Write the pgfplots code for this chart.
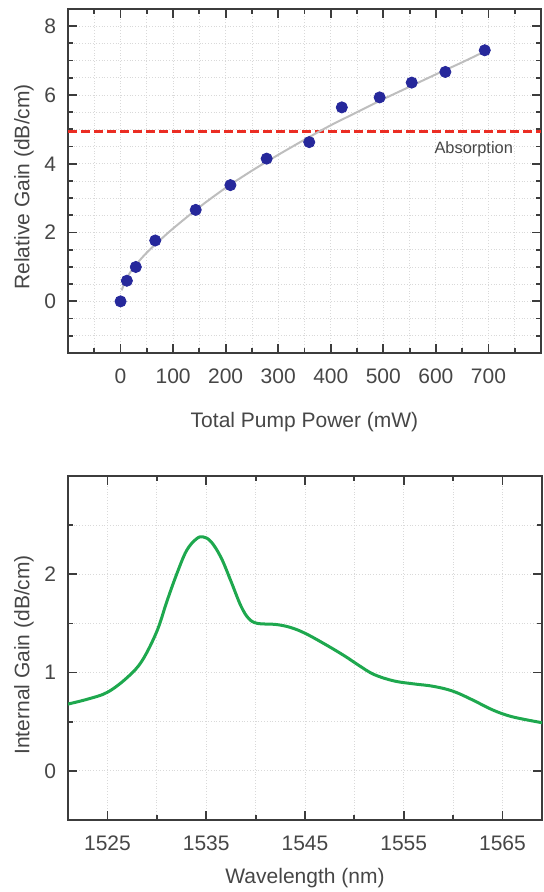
\documentclass[border=0pt]{standalone}
\usepackage{fontspec}
\setmainfont{Liberation Sans}
\usepackage{pgfplots}
\pgfplotsset{compat=1.18}

\definecolor{axisgray}{RGB}{60,60,60}
\definecolor{labelgray}{RGB}{70,70,70}
\definecolor{dotblue}{RGB}{38,40,155}
\definecolor{fitgray}{RGB}{190,190,190}
\definecolor{absred}{RGB}{235,45,35}
\definecolor{gaingreen}{RGB}{30,168,78}

\pgfplotsset{
  panel/.style={
    scale only axis,
    axis line style={draw=axisgray, line width=1pt},
    tick style={draw=axisgray, line width=0.9pt},
    major tick length=4.5pt, minor tick length=2.5pt,
    tick align=inside,
    grid=both,
    major grid style={densely dotted, gray!30, line width=0.4pt},
    minor grid style={densely dotted, gray!30, line width=0.4pt},
    tick label style={font=\fontsize{10.5}{12}\selectfont, text=labelgray},
    label style={font=\fontsize{10.5}{12}\selectfont, text=labelgray},
    xticklabel style={anchor=center, yshift=-11.7pt},
    yticklabel style={anchor=east, xshift=-2.5pt},
    /pgf/number format/assume math mode=true,
    /pgf/number format/1000 sep={},
  }
}

\begin{document}
\begin{tikzpicture}
\path[use as bounding box] (0,0) rectangle (271.5pt,446pt);

% top panel: gain vs pump power
\begin{axis}[panel,
    at={(34pt,269.5pt)}, anchor=south west,
    width=236.5pt, height=172pt,
    xmin=-100, xmax=800, ymin=-1.5, ymax=8.5,
    xtick={0,100,...,700}, minor xtick={-50,50,...,750},
    ytick={0,2,4,6,8}, minor ytick={-1.5,-1,-0.5,0.5,1,1.5,2.5,3,3.5,4.5,5,5.5,6.5,7,7.5,8.5},
    xlabel={Total Pump Power (mW)},
    ylabel={Relative Gain (dB/cm)},
    xlabel style={at={(axis description cs:0.5,-0.2)}, anchor=center},
    ylabel style={at={(axis description cs:-0.093,0.483)}, anchor=center},
  ]
  \addplot[draw=absred, line width=1.5pt, dash pattern=on 4.7pt off 1.8pt] coordinates {(-100,4.95) (800,4.95)};
  \addplot[draw=fitgray, line width=1pt, smooth] coordinates {
    (2,0.32) (10,0.62) (20,0.88) (30,1.08) (50,1.42) (75,1.78) (100,2.12)
    (150,2.74) (200,3.30) (250,3.80) (300,4.26) (350,4.70) (400,5.12)
    (450,5.50) (500,5.88) (550,6.24) (600,6.60) (650,6.95) (695,7.28)
  };
  \addplot[only marks, mark=*, mark size=2.8pt, mark options={draw=dotblue, fill=dotblue}] coordinates {
    (0,0.00) (12,0.60) (29,1.00) (66,1.77) (143,2.66) (209,3.38) (278,4.15)
    (359,4.63) (421,5.64) (493,5.93) (554,6.36) (618,6.67) (693,7.30)
  };
  \node[font=\fontsize{8.2}{10}\selectfont, text=labelgray] at (axis cs:672,4.42) {Absorption};
\end{axis}

% bottom panel: internal gain spectrum
\begin{axis}[panel,
    at={(34pt,36pt)}, anchor=south west,
    width=237pt, height=172pt,
    xmin=1521, xmax=1569, ymin=-0.5, ymax=3,
    xtick={1525,1535,...,1565}, minor xtick={1530,1540,...,1560},
    ytick={0,1,2}, minor ytick={-0.5,0.5,1.5,2.5},
    xlabel={Wavelength (nm)},
    ylabel={Internal Gain (dB/cm)},
    xlabel style={at={(axis description cs:0.5,-0.169)}, anchor=center},
    ylabel style={at={(axis description cs:-0.093,0.48)}, anchor=center},
  ]
  \addplot[draw=gaingreen, line width=1.5pt, smooth, tension=0.6] coordinates {
    (1520.8,0.675) (1523.0,0.73) (1525.0,0.80) (1527.0,0.95) (1528.5,1.12)
    (1530.0,1.42) (1531.0,1.72) (1532.0,2.00) (1533.0,2.24) (1534.0,2.36)
    (1534.7,2.38) (1535.5,2.33) (1536.5,2.17) (1537.5,1.93) (1538.5,1.68)
    (1539.3,1.55) (1540.2,1.50) (1542.0,1.49) (1543.5,1.46) (1545.0,1.40)
    (1547.0,1.29) (1549.0,1.17) (1550.5,1.07) (1552.0,0.98) (1554.0,0.915)
    (1556.0,0.885) (1558.0,0.86) (1560.0,0.81) (1562.0,0.72) (1564.0,0.62)
    (1566.0,0.55) (1569.0,0.49)
  };
\end{axis}
\end{tikzpicture}
\end{document}
